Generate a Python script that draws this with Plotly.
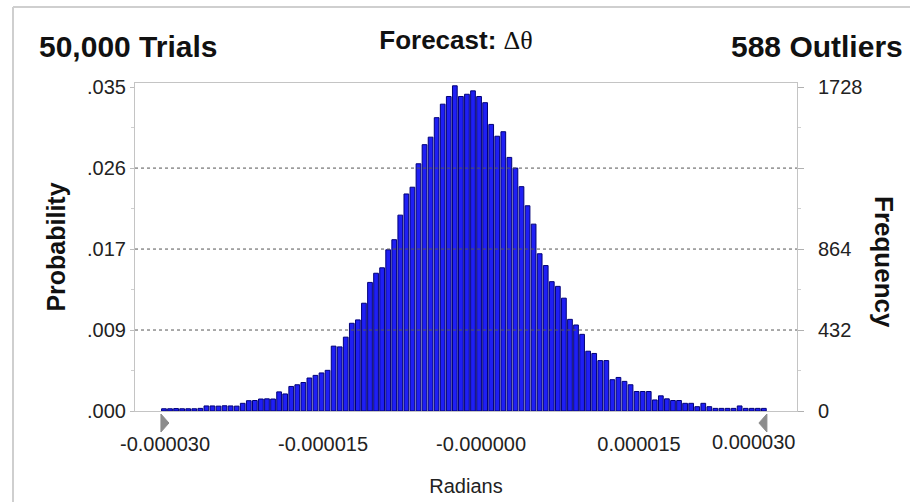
import plotly.graph_objects as go

# ---------------- data ----------------
trials = 50000
outliers = 588
forecast_name = "Δθ"
x_title = "Radians"

# frequency of each of the 100 histogram bins (left to right)
freq = [12, 12, 13, 12, 12, 12, 14,
        27, 27, 26, 28, 27, 26,
        41, 55, 56, 64, 65, 64,
        102, 91, 131, 140, 152, 176, 190, 203, 217,
        346, 342, 394, 468, 486, 575, 686, 735, 764,
        860, 914, 1045, 1158, 1194, 1319, 1421, 1461, 1565,
        1637, 1678, 1735, 1678, 1690, 1708, 1678, 1645,
        1529, 1466, 1490, 1353, 1296, 1197, 1095, 997,
        839, 776, 690, 665, 602, 489, 459, 409,
        319, 307, 269, 269, 167, 179, 158, 140, 104, 104, 104,
        59, 81, 65, 56, 56, 41, 41, 23, 41, 23,
        14, 14, 14, 14, 27, 14, 14, 14, 14]

bin_first_center = -30.1e-6      # radians
bin_width = 0.5753e-6            # radians
x_centers = [bin_first_center + i * bin_width for i in range(len(freq))]

x_tick_vals = [-30e-6, -15e-6, 0.0, 15e-6]
x_tick_text = ["-0.000030", "-0.000015", "-0.000000", "0.000015"]
x_last_tick_val = 30e-6
x_last_tick_text = "0.000030"
x_range = [-32.85e-6, 30.0e-6]

freq_ticks = [0, 432, 864, 1296, 1728]
right_tick_text = ["0", "432", "864", "", "1728"]
y_range = [0, 1750]

# certainty grabbers (-Infinity / +Infinity) at the ends of the displayed data
certainty_ends = [x_centers[0] - bin_width / 2, x_centers[-1] + bin_width / 2]

# ---------------- layout helpers ----------------
W, H = 910, 502
L, R, T, B = 135, 797, 83, 411
FONT = "Arial, 'Liberation Sans', sans-serif"
TICK_FONT = dict(family=FONT, size=20, color="#222")
X_PER_PX = (x_range[1] - x_range[0]) / (R - L)


def px_x(px):
    return (px - L) / (R - L)


def px_y(py):
    return (B - py) / (B - T)


left_tick_text = ["{:.3f}".format(v / trials)[1:] for v in freq_ticks]
minor_vals = [(a + b) / 2 for a, b in zip(freq_ticks[:-1], freq_ticks[1:])]

fig = go.Figure()
fig.add_trace(go.Bar(
    x=x_centers, y=freq, width=bin_width * 0.78,
    marker=dict(color="#1f1ff4", line=dict(color="#000078", width=1)),
    showlegend=False, hoverinfo="x+y"))

# invisible trace to carry the right-hand frequency axis
fig.add_trace(go.Scatter(x=x_centers[:1], y=freq[:1], yaxis="y2", mode="markers",
                         marker=dict(opacity=0), showlegend=False, hoverinfo="skip"))

shapes = []
for v in freq_ticks[1:-1]:
    shapes.append(dict(type="line", xref="paper", yref="y", x0=0, x1=1, y0=v, y1=v,
                       line=dict(color="#555555", width=1, dash="dot"), layer="above"))

# grabber triangles below the axis
tri_top, tri_mid, tri_bot = px_y(414), px_y(423), px_y(432)
for xe, direction in zip(certainty_ends, [1, -1]):
    x_tip = xe + direction * 8 * X_PER_PX
    path = (f"M {xe},{tri_top} L {x_tip},{tri_mid} L {xe},{tri_bot} Z")
    shapes.append(dict(type="path", xref="x", yref="paper", path=path,
                       fillcolor="#8c8c8c", line=dict(color="#8c8c8c", width=1)))

# outer light frame (top and left edges visible in the reference)
shapes.append(dict(type="line", xref="paper", yref="paper",
                   x0=px_x(13), x1=px_x(W), y0=px_y(7), y1=px_y(7),
                   line=dict(color="#cfcfcf", width=2)))
shapes.append(dict(type="line", xref="paper", yref="paper",
                   x0=px_x(13), x1=px_x(13), y0=px_y(7), y1=px_y(H),
                   line=dict(color="#cfcfcf", width=2)))

annotations = [
    dict(text=f"<b>{trials:,} Trials</b>", xref="paper", yref="paper",
         x=px_x(37), y=px_y(47), xanchor="left", yanchor="middle", showarrow=False,
         font=dict(family=FONT, size=30, color="#111")),
    dict(text=f"<b>{outliers} Outliers</b>", xref="paper", yref="paper",
         x=px_x(905), y=px_y(47), xanchor="right", yanchor="middle", showarrow=False,
         font=dict(family=FONT, size=30, color="#111")),
    dict(text="<b>Frequency</b>", xref="paper", yref="paper", textangle=90,
         x=px_x(884), y=px_y(262), xanchor="center", yanchor="middle", showarrow=False,
         font=dict(family=FONT, size=26, color="#111")),
    dict(text=x_last_tick_text, xref="x", yref="paper",
         x=x_last_tick_val, y=px_y(442), xanchor="right", yanchor="middle",
         showarrow=False, font=TICK_FONT),
]

fig.update_layout(
    width=W, height=H,
    margin=dict(l=L, r=W - R, t=T, b=H - B, autoexpand=False),
    paper_bgcolor="white", plot_bgcolor="white",
    bargap=0.2,
    title=dict(text=f"<b>Forecast:</b> <span style='font-family:Liberation Serif, Times New Roman, serif'>{forecast_name}</span>",
               xref="container", yref="container", x=456 / W, y=1 - 40 / H,
               xanchor="center", yanchor="middle",
               font=dict(family=FONT, size=26, color="#111")),
    xaxis=dict(range=x_range, tickmode="array", tickvals=x_tick_vals, ticktext=x_tick_text,
               showgrid=False, zeroline=False, showline=True, mirror=True,
               linecolor="#c4c4c4", linewidth=1, ticks="", ticklabelstandoff=15,
               tickfont=TICK_FONT,
               title=dict(text=x_title, standoff=24, font=dict(family=FONT, size=20, color="#222"))),
    yaxis=dict(range=y_range, tickmode="array", tickvals=freq_ticks, ticktext=left_tick_text,
               showgrid=False, zeroline=False, showline=True, mirror=True,
               linecolor="#c4c4c4", linewidth=1, ticks="outside", ticklen=4,
               tickcolor="#bdbdbd",
               minor=dict(tickvals=minor_vals, ticks="outside", ticklen=3, tickcolor="#cfcfcf"),
               tickfont=TICK_FONT,
               title=dict(text="<b>Probability</b>", standoff=14,
                          font=dict(family=FONT, size=25, color="#111"))),
    yaxis2=dict(range=y_range, overlaying="y", side="right", tickmode="array",
                tickvals=freq_ticks, ticktext=right_tick_text, showgrid=False, zeroline=False,
                showline=True, linecolor="#c4c4c4", linewidth=1, ticks="outside", ticklen=6,
                tickcolor="#b0b0b0", ticklabelstandoff=10,
                minor=dict(tickvals=minor_vals, ticks="outside", ticklen=3, tickcolor="#cfcfcf"),
                tickfont=TICK_FONT),
    shapes=shapes,
    annotations=annotations,
)

fig.write_html("out.html", config={"displayModeBar": False},
               post_script="document.body.style.margin='0';")
